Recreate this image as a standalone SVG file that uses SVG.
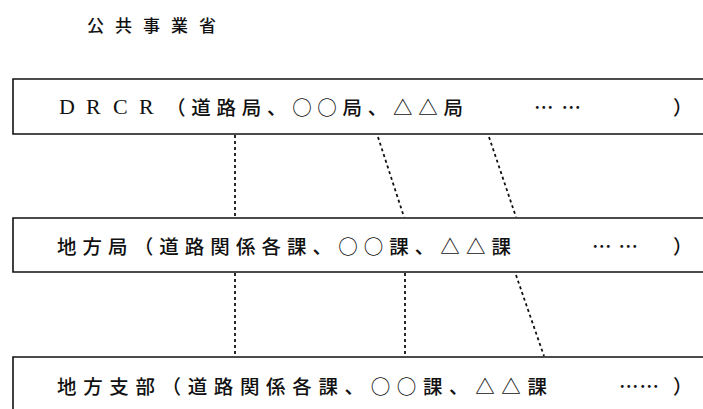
<svg xmlns="http://www.w3.org/2000/svg" width="703" height="409" viewBox="0 0 703 409">
<style>
.box{fill:none;stroke:#111;stroke-width:1.6}
.con{fill:none;stroke:#111;stroke-width:1.8;stroke-dasharray:3 3}
.t{font-family:"Noto Sans CJK JP","Noto Sans CJK SC",sans-serif;font-size:19.5px;font-weight:500;fill:#111;dominant-baseline:central}
.lat{font-family:"Liberation Serif",serif;font-size:22px;fill:#111;dominant-baseline:central}
.title{font-family:"Noto Sans CJK JP","Noto Sans CJK SC",sans-serif;font-size:17px;font-weight:500;fill:#111;dominant-baseline:central}
</style>
<rect width="703" height="409" fill="#fff"/>
<text class="title" x="87" y="24" textLength="129" lengthAdjust="spacing">公共事業省</text>
<g id="connectors">
<line class="con" x1="235" y1="135" x2="235" y2="217"/>
<line class="con" x1="378" y1="137" x2="404" y2="217"/>
<line class="con" x1="489" y1="137" x2="516" y2="217"/>
<line class="con" x1="235" y1="273" x2="235" y2="356"/>
<line class="con" x1="405" y1="273" x2="405" y2="356"/>
<line class="con" x1="516" y1="275" x2="544" y2="356"/>
</g>
<g id="node-drcr">
<path class="box" d="M703,79 H13 V134 H703"/>
<text class="lat" x="59 86 113 139" y="106">DRCR</text>
<text class="t" x="166" y="106" textLength="297" lengthAdjust="spacing">（道路局、○○局、△△局</text>
<text class="t" x="534" y="106" textLength="47" lengthAdjust="spacing">……</text>
<text class="t" x="673" y="106">）</text>
</g>
<g id="node-chihokyoku">
<path class="box" d="M703,218 H13 V272 H703"/>
<text class="t" x="57" y="245" textLength="454" lengthAdjust="spacing">地方局（道路関係各課、○○課、△△課</text>
<text class="t" x="592" y="245" textLength="46" lengthAdjust="spacing">……</text>
<text class="t" x="673" y="245">）</text>
</g>
<g id="node-chihoshibu">
<path class="box" d="M703,357 H13 V409"/>
<text class="t" x="57" y="385" textLength="490" lengthAdjust="spacing">地方支部（道路関係各課、○○課、△△課</text>
<text class="t" x="619" y="385" textLength="40" lengthAdjust="spacing">……</text>
<text class="t" x="673" y="385">）</text>
</g>
</svg>
